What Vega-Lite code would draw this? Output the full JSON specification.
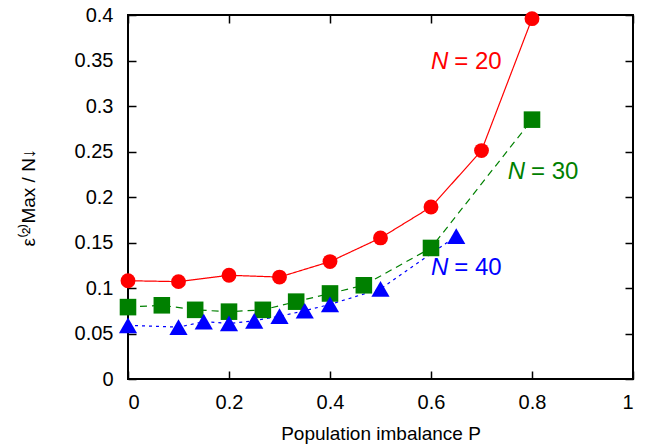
{
  "$schema": "https://vega.github.io/schema/vega-lite/v6.json",
  "width": 505,
  "height": 364,
  "autosize": {"type": "none"},
  "padding": {"left": 128, "top": 15, "right": 13, "bottom": 66},
  "background": "white",
  "config": {
    "view": {"stroke": "black", "strokeWidth": 2},
    "font": "Liberation Sans"
  },
  "datasets": {
    "pts": [
      {"s": "N20", "P": 0.0, "e": 0.108},
      {"s": "N20", "P": 0.1, "e": 0.107},
      {"s": "N20", "P": 0.2, "e": 0.114},
      {"s": "N20", "P": 0.3, "e": 0.112},
      {"s": "N20", "P": 0.4, "e": 0.129},
      {"s": "N20", "P": 0.5, "e": 0.155},
      {"s": "N20", "P": 0.6, "e": 0.189},
      {"s": "N20", "P": 0.7, "e": 0.251},
      {"s": "N20", "P": 0.8, "e": 0.396},
      {"s": "N30", "P": 0.0, "e": 0.079},
      {"s": "N30", "P": 0.067, "e": 0.081},
      {"s": "N30", "P": 0.133, "e": 0.076},
      {"s": "N30", "P": 0.2, "e": 0.074},
      {"s": "N30", "P": 0.267, "e": 0.076},
      {"s": "N30", "P": 0.333, "e": 0.085},
      {"s": "N30", "P": 0.4, "e": 0.094},
      {"s": "N30", "P": 0.467, "e": 0.103},
      {"s": "N30", "P": 0.6, "e": 0.144},
      {"s": "N30", "P": 0.8, "e": 0.285},
      {"s": "N40", "P": 0.0, "e": 0.059},
      {"s": "N40", "P": 0.1, "e": 0.057},
      {"s": "N40", "P": 0.15, "e": 0.063},
      {"s": "N40", "P": 0.2, "e": 0.061},
      {"s": "N40", "P": 0.25, "e": 0.064},
      {"s": "N40", "P": 0.3, "e": 0.069},
      {"s": "N40", "P": 0.35, "e": 0.075},
      {"s": "N40", "P": 0.4, "e": 0.082},
      {"s": "N40", "P": 0.5, "e": 0.099},
      {"s": "N40", "P": 0.65, "e": 0.157}
    ],
    "labels": [
      {"s": "N20", "P": 0.6, "e": 0.348, "t": "N", "it": true},
      {"s": "N20", "P": 0.646, "e": 0.348, "t": "= 20", "it": false},
      {"s": "N30", "P": 0.752, "e": 0.2275, "t": "N", "it": true},
      {"s": "N30", "P": 0.798, "e": 0.2275, "t": "= 30", "it": false},
      {"s": "N40", "P": 0.6, "e": 0.122, "t": "N", "it": true},
      {"s": "N40", "P": 0.646, "e": 0.122, "t": "= 40", "it": false}
    ]
  },
  "resolve": {"axis": {"x": "independent", "y": "independent"}},
  "layer": [
    {
      "data": {"name": "pts"},
      "mark": {"type": "line", "strokeWidth": 1.2},
      "encoding": {
        "x": {"field": "P", "type": "quantitative",
              "scale": {"domain": [0, 1]},
              "axis": {"orient": "bottom", "values": [0, 0.2, 0.4, 0.6, 0.8, 1], "format": "~g",
                       "domain": false, "grid": false, "tickColor": "black", "tickWidth": 1.5, "tickSize": -8,
                       "labelFont": "Liberation Sans", "labelFontSize": 20, "labelColor": "black", "labelPadding": 21,
                       "title": "Population imbalance P", "titleFont": "Liberation Sans", "titleFontSize": 19,
                       "titleFontWeight": "normal", "titleColor": "black", "titlePadding": 12}},
        "y": {"field": "e", "type": "quantitative",
              "scale": {"domain": [0, 0.4]},
              "axis": {"orient": "left", "values": [0, 0.05, 0.1, 0.15, 0.2, 0.25, 0.3, 0.35, 0.4], "format": "~g",
                       "domain": false, "grid": false, "tickColor": "black", "tickWidth": 1.5, "tickSize": -8,
                       "labelFont": "Liberation Sans", "labelFontSize": 20, "labelColor": "black", "labelPadding": 23,
                       "title": "ε⁽²⁾Max / N↓", "titleFont": "Liberation Sans", "titleFontSize": 19,
                       "titleFontWeight": "normal", "titleColor": "black", "titlePadding": 36}},
        "color": {"field": "s", "type": "nominal", "legend": null,
                  "scale": {"domain": ["N20", "N30", "N40"], "range": ["#ff0000", "#008000", "#0000ff"]}},
        "strokeDash": {"field": "s", "type": "nominal", "legend": null,
                  "scale": {"domain": ["N20", "N30", "N40"], "range": [[1, 0], [7, 5], [3, 4]]}}
      }
    },
    {
      "data": {"name": "pts"},
      "mark": {"type": "point", "filled": true, "opacity": 1},
      "encoding": {
        "x": {"field": "P", "type": "quantitative",
              "axis": {"orient": "top", "values": [0, 0.2, 0.4, 0.6, 0.8, 1], "labels": false, "title": null,
                       "domain": false, "grid": false, "tickColor": "black", "tickWidth": 1.5, "tickSize": -8}},
        "y": {"field": "e", "type": "quantitative",
              "axis": {"orient": "right", "values": [0, 0.05, 0.1, 0.15, 0.2, 0.25, 0.3, 0.35, 0.4], "labels": false, "title": null,
                       "domain": false, "grid": false, "tickColor": "black", "tickWidth": 1.5, "tickSize": -8}},
        "color": {"field": "s", "type": "nominal", "legend": null},
        "shape": {"field": "s", "type": "nominal", "legend": null,
                  "scale": {"domain": ["N20", "N30", "N40"], "range": ["circle", "square", "triangle-up"]}},
        "size": {"field": "s", "type": "nominal", "legend": null,
                  "scale": {"domain": ["N20", "N30", "N40"], "range": [220, 330, 200]}}
      }
    },
    {
      "data": {"name": "labels"},
      "transform": [{"filter": "datum.it"}],
      "mark": {"type": "text", "align": "left", "baseline": "middle", "fontSize": 24, "fontStyle": "italic", "font": "Liberation Sans"},
      "encoding": {
        "x": {"field": "P", "type": "quantitative", "axis": null},
        "y": {"field": "e", "type": "quantitative", "axis": null},
        "text": {"field": "t"},
        "color": {"field": "s", "type": "nominal", "legend": null}
      }
    },
    {
      "data": {"name": "labels"},
      "transform": [{"filter": "!datum.it"}],
      "mark": {"type": "text", "align": "left", "baseline": "middle", "fontSize": 24, "font": "Liberation Sans"},
      "encoding": {
        "x": {"field": "P", "type": "quantitative", "axis": null},
        "y": {"field": "e", "type": "quantitative", "axis": null},
        "text": {"field": "t"},
        "color": {"field": "s", "type": "nominal", "legend": null}
      }
    }
  ]
}
